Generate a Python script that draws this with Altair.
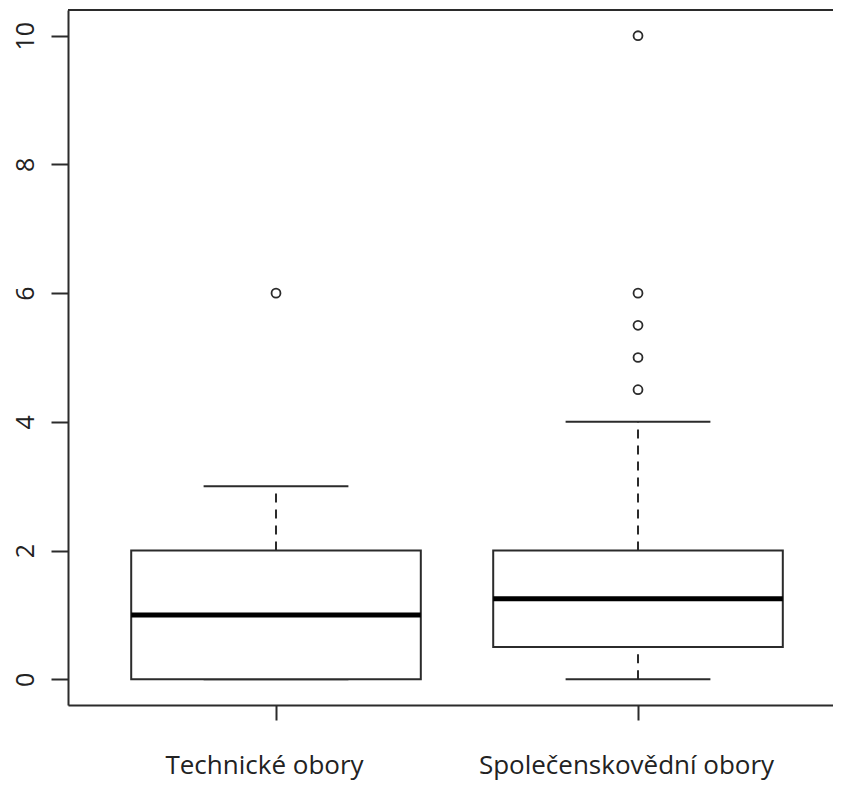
import altair as alt
import pandas as pd

# ---- data ----
categories = ["Technické obory", "Společenskovědní obory"]
positions = [1, 2]
q1 = [0, 0.5]
medians = [1, 1.25]
q3 = [2, 2]
whisker_low = [0, 0]
whisker_high = [3, 4]
outlier_group = [1, 2, 2, 2, 2, 2]
outlier_values = [6, 4.5, 5, 5.5, 6, 10]
y_ticks = [0, 2, 4, 6, 8, 10]

# ---- layout / style ----
W, H = 765, 695
PX_PER_UNIT = 362
BOX_HALF = 0.4
CAP_HALF = 0.2
INK = "#2b2b2b"
FONT = "Open Sans"

box_df = pd.DataFrame(dict(cat=categories, pos=positions, q1=q1, med=medians,
                           q3=q3, lo=whisker_low, hi=whisker_high))
out_df = pd.DataFrame(dict(pos=outlier_group, value=outlier_values))

x_min = 0.4254
xscale = alt.Scale(domain=[x_min, x_min + W / PX_PER_UNIT], nice=False, zero=False)
yscale = alt.Scale(domain=[-0.4, 10.4], nice=False, zero=False)

label_expr = " : ".join(
    f"datum.value == {p} ? '{c}'" for p, c in zip(positions[:-1], categories[:-1])
) + f" : '{categories[-1]}'"

xaxis = alt.Axis(values=positions, labelExpr=label_expr, title=None, grid=False,
                 tickSize=15, tickWidth=2, tickColor=INK, domainColor=INK, domainWidth=2,
                 labelFont=FONT, labelFontSize=26, labelColor="#222222", labelLimit=0,
                 labelBaseline="alphabetic", labelPadding=53, labelOffset=-12,
                 labelOverlap=False, labelBound=False, labelFlush=False)
yaxis = alt.Axis(values=y_ticks, title=None, grid=False,
                 tickSize=17, tickWidth=2, tickColor=INK, domainColor=INK, domainWidth=2,
                 labelFont=FONT, labelFontSize=25, labelColor="#222222",
                 labelAngle=270, labelAlign="center", labelBaseline="alphabetic",
                 labelPadding=18, labelOverlap=False, labelBound=False, labelFlush=False)


def X(field):
    return alt.X(field, type="quantitative", scale=xscale, axis=xaxis)


def Y(field):
    return alt.Y(field, type="quantitative", scale=yscale, axis=yaxis)


base = alt.Chart(box_df).transform_calculate(
    bl=f"datum.pos - {BOX_HALF}", br=f"datum.pos + {BOX_HALF}",
    cl=f"datum.pos - {CAP_HALF}", cr=f"datum.pos + {CAP_HALF}",
)

whisk_hi = base.mark_rule(color=INK, strokeWidth=2, strokeDash=[9, 7]).encode(
    x=X("pos"), y=Y("q3"), y2="hi")
whisk_lo = base.mark_rule(color=INK, strokeWidth=2, strokeDash=[9, 7]).encode(
    x=X("pos"), y=Y("lo"), y2="q1")
cap_hi = base.mark_rule(color=INK, strokeWidth=2).encode(x=X("cl"), x2="cr", y=Y("hi"))
cap_lo = base.mark_rule(color=INK, strokeWidth=2).encode(x=X("cl"), x2="cr", y=Y("lo"))
box = base.mark_rect(fill="white", stroke=INK, strokeWidth=2).encode(
    x=X("bl"), x2="br", y=Y("q1"), y2="q3")
median = base.mark_rule(color="black", strokeWidth=5).encode(
    x=X("bl"), x2="br", y=Y("med"))
outliers = alt.Chart(out_df).mark_point(shape="circle", filled=False, size=80,
                                         strokeWidth=1.8, color=INK, opacity=1).encode(
    x=X("pos"), y=Y("value"))
top_frame = alt.Chart(box_df).mark_rule(color=INK, strokeWidth=2).encode(
    x=alt.value(0), x2=alt.value(W), y=alt.value(0))

chart = alt.layer(whisk_hi, whisk_lo, cap_hi, cap_lo, box, median, outliers, top_frame).properties(
    width=W, height=H,
    autosize=alt.AutoSizeParams(type="none"),
    padding={"left": 60, "top": 2, "right": 0, "bottom": 75},
).configure_view(stroke=None).configure(background="white")

chart.save("out.html", embed_options={"renderer": "svg", "actions": False})
